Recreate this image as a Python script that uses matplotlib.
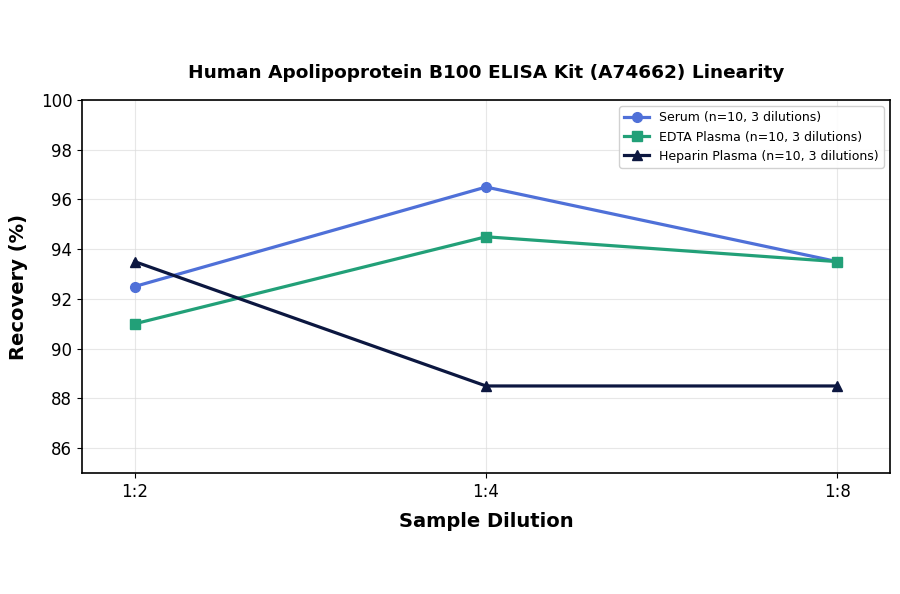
import matplotlib
matplotlib.use("Agg")
import matplotlib.pyplot as plt

dilutions = ["1:2", "1:4", "1:8"]
serum = [92.5, 96.5, 93.5]
edta = [91.0, 94.5, 93.5]
heparin = [93.5, 88.5, 88.5]
labels = ["Serum (n=10, 3 dilutions)", "EDTA Plasma (n=10, 3 dilutions)", "Heparin Plasma (n=10, 3 dilutions)"]
colors = ["#4f70d8", "#22a078", "#0c1740"]
markers = ["o", "s", "^"]

fig = plt.figure(figsize=(9, 5.94), dpi=100)
ax = fig.add_axes([82/900, 1-473/594, 808/900, 373/594])
x = list(range(len(dilutions)))
for ys, lab, c, m in zip([serum, edta, heparin], labels, colors, markers):
    ax.plot(x, ys, color=c, marker=m, lw=2.3, ms=7, label=lab)
ax.set_xlim(-0.15, 2.15)
ax.set_ylim(85, 100)
ax.set_xticks(x)
ax.set_xticklabels(dilutions)
ax.set_yticks(range(86, 101, 2))
ax.tick_params(labelsize=12)
ax.grid(True, color="#dddddd", alpha=0.7, lw=0.8)
for s in ax.spines.values():
    s.set_linewidth(1.2)
ax.set_xlabel("Sample Dilution", fontsize=14, fontweight="bold", labelpad=8)
ax.set_ylabel("Recovery (%)", fontsize=14, fontweight="bold", labelpad=9)
ax.set_title("Human Apolipoprotein B100 ELISA Kit (A74662) Linearity", fontsize=13.3, fontweight="bold", pad=16)
ax.legend(loc="upper right", fontsize=9, framealpha=0.9, borderaxespad=0.5)
fig.savefig("out.png", dpi=100)
